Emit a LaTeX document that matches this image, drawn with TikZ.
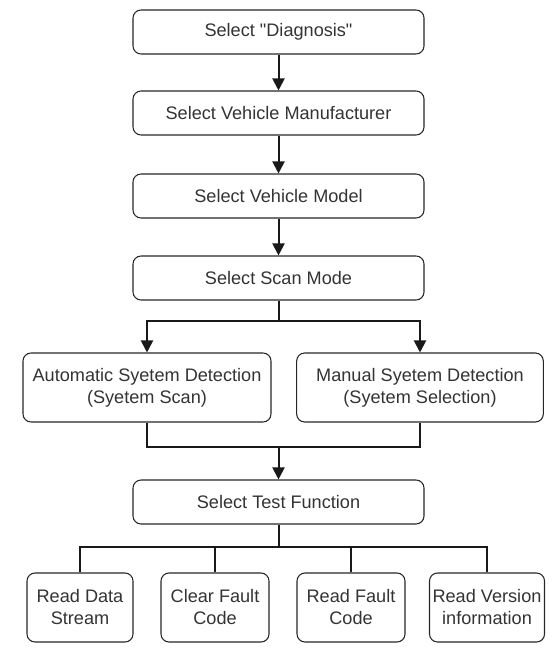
\documentclass[tikz,border=0pt]{standalone}
\usepackage{fontspec}
\setmainfont{Liberation Sans}
\usepackage{tikz}
\usetikzlibrary{positioning, arrows.meta, calc}

\tikzset{
    box/.style={draw=black!85, line width=0.8pt, rounded corners=6pt, align=center,
        inner sep=0pt, text=black!80, font=\fontsize{13.6}{16.5}\selectfont},
    link/.style={draw=black!90, line width=1.5pt},
    arr/.style={link, -{Triangle[width=9pt, length=9pt]}}
}

\begin{document}
\begin{tikzpicture}[x=0.75pt, y=-0.75pt]
    \useasboundingbox (0,0) rectangle (554,659);

    % main column
    \node[box, minimum width=218.25pt, minimum height=33pt] (diag)  at (278.5,32)  {Select \textquotedbl Diagnosis\textquotedbl};
    \node[box, minimum width=218.25pt, minimum height=33pt] (maker) at (278.5,113) {Select Vehicle Manufacturer};
    \node[box, minimum width=218.25pt, minimum height=33pt] (model) at (278.5,196) {Select Vehicle Model};
    \node[box, minimum width=218.25pt, minimum height=33pt] (scan)  at (278.5,278) {Select Scan Mode};

    % detection modes
    \node[box, minimum width=186pt, minimum height=51.75pt] (auto)   at (147,387.5) {Automatic Syetem Detection\\(Syetem Scan)};
    \node[box, minimum width=185pt, minimum height=51.75pt] (manual) at (420,387.5) {Manual Syetem Detection\\(Syetem Selection)};

    \node[box, minimum width=218.25pt, minimum height=33pt] (test) at (278.5,502) {Select Test Function};

    % functions
    \foreach \name/\cx/\w/\txt in {
        data/80/79.5/{Read Data\\Stream},
        clear/215/81/{Clear Fault\\Code},
        readf/351/81/{Read Fault\\Code},
        vers/487/86.25/{Read Version\\information}}{
        \node[box, minimum width=\w pt, minimum height=51.75pt] (\name) at (\cx,607.5) {\txt};
    }

    \coordinate (split) at (278.5,321);
    \coordinate (merge) at (278.5,447);
    \coordinate (fan)   at (278.5,547);

    % connectors
    \draw[arr] (diag) -- (maker);
    \draw[arr] (maker) -- (model);
    \draw[arr] (model) -- (scan);

    \draw[link] (scan) -- (split);
    \draw[arr] (split) -| (auto);
    \draw[arr] (split) -| (manual);

    \draw[link] (auto) |- (merge) -| (manual);
    \draw[arr] (merge) -- (test);

    \draw[link] (test) -- (fan);
    \foreach \name in {data, clear, readf, vers}{
        \draw[link] (fan) -| (\name);
    }
\end{tikzpicture}
\end{document}
